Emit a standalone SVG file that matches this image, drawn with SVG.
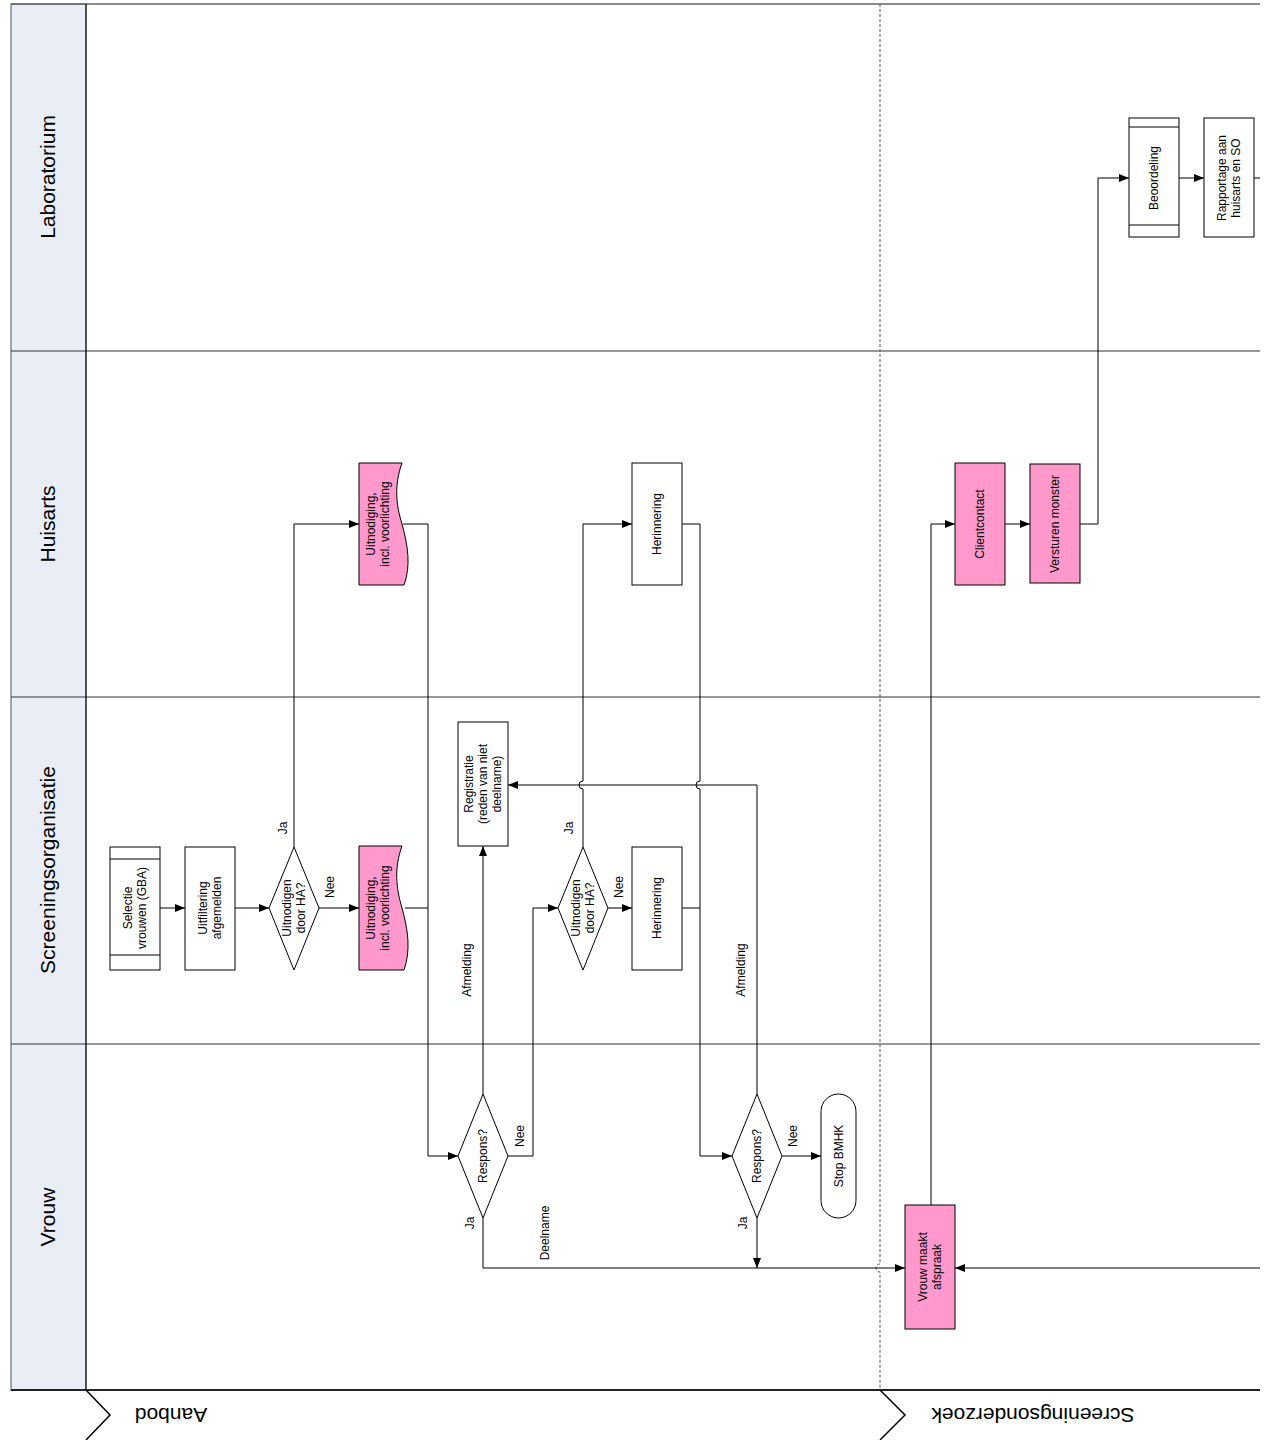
<svg xmlns="http://www.w3.org/2000/svg" width="1266" height="1440" viewBox="0 0 1266 1440">
<defs>
<marker id="arr" markerWidth="10" markerHeight="8" refX="10" refY="4" orient="auto" markerUnits="userSpaceOnUse">
<path d="M0,0 L10,4 L0,8 Z" fill="#000"/>
</marker>
<style>
text{font-family:"Liberation Sans",Arial,sans-serif;fill:#000}
.n{font-size:12px;text-anchor:middle}
.h{font-size:21px;text-anchor:middle}
.box{fill:#fff;stroke:#000;stroke-width:1}
.pink{fill:#ff99cc;stroke:#000;stroke-width:1}
.c{fill:none;stroke:#000;stroke-width:1}
.ca{fill:none;stroke:#000;stroke-width:1;marker-end:url(#arr)}
.lane{stroke:#333;stroke-width:1}
</style>
</defs>
<rect width="1266" height="1440" fill="#fff"/>
<!-- lanes -->
<g id="lanes">
<rect x="11" y="4" width="75" height="1386" fill="#e8edf6" stroke="#555" stroke-width="1"/>
<line x1="11" y1="4" x2="1260" y2="4" stroke="#666" stroke-width="1.5"/>
<line class="lane" x1="11" y1="351" x2="1260" y2="351"/>
<line class="lane" x1="11" y1="697" x2="1260" y2="697"/>
<line class="lane" x1="11" y1="1044" x2="1260" y2="1044"/>
<line x1="86" y1="4" x2="86" y2="1390" stroke="#000" stroke-width="1"/>
<line x1="11" y1="1390" x2="1260" y2="1390" stroke="#222" stroke-width="2"/>
<path d="M880,4 V1264 a4,4 0 0 0 0,8 V1390" fill="none" stroke="#555" stroke-width="1" stroke-dasharray="3,2"/>
<text class="h" transform="translate(48,177) rotate(-90)" dy="7">Laboratorium</text>
<text class="h" transform="translate(48,524) rotate(-90)" dy="7">Huisarts</text>
<text class="h" transform="translate(48,870) rotate(-90)" dy="7">Screeningsorganisatie</text>
<text class="h" transform="translate(48,1217) rotate(-90)" dy="7">Vrouw</text>
<path d="M86,1390 L110,1415 L86,1440" fill="none" stroke="#000" stroke-width="1.5"/>
<path d="M880,1390 L905,1415 L880,1440" fill="none" stroke="#000" stroke-width="1.5"/>
<text class="h" transform="translate(171,1415) rotate(180)" dy="7">Aanbod</text>
<text class="h" transform="translate(1033,1415) rotate(180)" dy="7">Screeningsonderzoek</text>
</g>
<!-- connectors -->
<g id="connectors">
<path class="ca" d="M160,908 H185"/>
<path class="ca" d="M235,908 H269"/>
<path class="ca" d="M294,847 V524 H359"/>
<path class="ca" d="M319,908 H359"/>
<path class="ca" d="M403,524 H428 V1156 H458"/>
<path class="c" d="M405,908 H428"/>
<path class="ca" d="M483,1094 V846"/>
<path class="ca" d="M508,1156 H533 V908 H558"/>
<path class="ca" d="M483,1218 V1268 H905"/>
<path class="ca" d="M583,847 V789 a4,4 0 0 1 0,-8 V524 H632"/>
<path class="ca" d="M608,908 H632"/>
<path class="ca" d="M682,524 H700 V781 a4,4 0 0 0 0,8 V1156 H732"/>
<path class="c" d="M682,908 H700"/>
<path class="ca" d="M757,1094 V785 H508"/>
<path class="ca" d="M782,1156 H821"/>
<path class="ca" d="M757,1218 V1268"/>
<path class="ca" d="M1260,1268 H955"/>
<path class="ca" d="M931,1205 V524 H955"/>
<path class="ca" d="M1005,524 H1030"/>
<path class="ca" d="M1080,524 H1098 V178 H1129"/>
<path class="ca" d="M1179,178 H1204"/>
<path class="c" d="M1254,178 H1260"/>
<text class="n" transform="translate(283,828) rotate(-90)" dy="4">Ja</text>
<text class="n" transform="translate(330,887) rotate(-90)" dy="4">Nee</text>
<text class="n" transform="translate(467,970) rotate(-90)" dy="4">Afmelding</text>
<text class="n" transform="translate(569,828) rotate(-90)" dy="4">Ja</text>
<text class="n" transform="translate(619,887) rotate(-90)" dy="4">Nee</text>
<text class="n" transform="translate(741,970) rotate(-90)" dy="4">Afmelding</text>
<text class="n" transform="translate(520,1136) rotate(-90)" dy="4">Nee</text>
<text class="n" transform="translate(470,1223) rotate(-90)" dy="4">Ja</text>
<text class="n" transform="translate(545,1233) rotate(-90)" dy="4">Deelname</text>
<text class="n" transform="translate(793,1136) rotate(-90)" dy="4">Nee</text>
<text class="n" transform="translate(743,1223) rotate(-90)" dy="4">Ja</text>
</g>
<!-- nodes -->
<g id="selectie">
<rect class="box" x="110" y="847" width="50" height="123"/>
<line class="c" x1="110" y1="859" x2="160" y2="859"/>
<line class="c" x1="110" y1="955" x2="160" y2="955"/>
<text class="n" transform="translate(135,908) rotate(-90)"><tspan x="0" y="-3">Selectie</tspan><tspan x="0" y="11">vrouwen (GBA)</tspan></text>
</g>
<g id="uitfiltering">
<rect class="box" x="185" y="847" width="50" height="123"/>
<text class="n" transform="translate(210,908) rotate(-90)"><tspan x="0" y="-3">Uitfiltering</tspan><tspan x="0" y="11">afgemelden</tspan></text>
</g>
<g id="dec1">
<path class="box" d="M294,847 L319,908 L294,970 L269,908 Z"/>
<text class="n" transform="translate(294,908) rotate(-90)"><tspan x="0" y="-3">Uitnodigen</tspan><tspan x="0" y="11">door HA?</tspan></text>
</g>
<g id="uitnodiging-so">
<path class="pink" d="M359,846 H402 C394,868 396,888 402,908 C408,930 411,950 404,970 H359 Z"/>
<text class="n" transform="translate(378,908) rotate(-90)"><tspan x="0" y="-3">Uitnodiging,</tspan><tspan x="0" y="11">incl. voorlichting</tspan></text>
</g>
<g id="uitnodiging-ha">
<path class="pink" d="M359,463 H402 C394,485 396,505 402,524 C408,546 411,566 404,585 H359 Z"/>
<text class="n" transform="translate(378,524) rotate(-90)"><tspan x="0" y="-3">Uitnodiging,</tspan><tspan x="0" y="11">incl. voorlichting</tspan></text>
</g>
<g id="registratie">
<rect class="box" x="458" y="722" width="50" height="124"/>
<text class="n" transform="translate(483,784) rotate(-90)"><tspan x="0" y="-10">Registratie</tspan><tspan x="0" y="4">(reden van niet</tspan><tspan x="0" y="18">deelname)</tspan></text>
</g>
<g id="dec2">
<path class="box" d="M583,847 L608,908 L583,970 L558,908 Z"/>
<text class="n" transform="translate(583,908) rotate(-90)"><tspan x="0" y="-3">Uitnodigen</tspan><tspan x="0" y="11">door HA?</tspan></text>
</g>
<g id="herinnering-so">
<rect class="box" x="632" y="847" width="50" height="123"/>
<text class="n" transform="translate(657,908) rotate(-90)" dy="4">Herinnering</text>
</g>
<g id="herinnering-ha">
<rect class="box" x="632" y="463" width="50" height="122"/>
<text class="n" transform="translate(657,524) rotate(-90)" dy="4">Herinnering</text>
</g>
<g id="respons1">
<path class="box" d="M483,1094 L508,1156 L483,1218 L458,1156 Z"/>
<text class="n" transform="translate(483,1156) rotate(-90)" dy="4">Respons?</text>
</g>
<g id="respons2">
<path class="box" d="M757,1094 L782,1156 L757,1218 L732,1156 Z"/>
<text class="n" transform="translate(757,1156) rotate(-90)" dy="4">Respons?</text>
</g>
<g id="stop">
<rect class="box" x="821" y="1094" width="35" height="124" rx="17.5" ry="17.5"/>
<text class="n" transform="translate(838.5,1156) rotate(-90)" dy="4">Stop BMHK</text>
</g>
<g id="afspraak">
<rect class="pink" x="905" y="1205" width="50" height="124"/>
<text class="n" transform="translate(930,1267) rotate(-90)"><tspan x="0" y="-3">Vrouw maakt</tspan><tspan x="0" y="11">afspraak</tspan></text>
</g>
<g id="clientcontact">
<rect class="pink" x="955" y="463" width="50" height="122"/>
<text class="n" transform="translate(980,524) rotate(-90)" dy="4">Clientcontact</text>
</g>
<g id="versturen">
<rect class="pink" x="1030" y="464" width="50" height="119"/>
<text class="n" transform="translate(1055,524) rotate(-90)" dy="4">Versturen monster</text>
</g>
<g id="beoordeling">
<rect class="box" x="1129" y="118" width="50" height="119"/>
<line class="c" x1="1129" y1="127" x2="1179" y2="127"/>
<line class="c" x1="1129" y1="225" x2="1179" y2="225"/>
<text class="n" transform="translate(1154,178) rotate(-90)" dy="4">Beoordeling</text>
</g>
<g id="rapportage">
<rect class="box" x="1204" y="118" width="50" height="119"/>
<text class="n" transform="translate(1229,178) rotate(-90)"><tspan x="0" y="-3">Rapportage aan</tspan><tspan x="0" y="11">huisarts en SO</tspan></text>
</g>
</svg>
